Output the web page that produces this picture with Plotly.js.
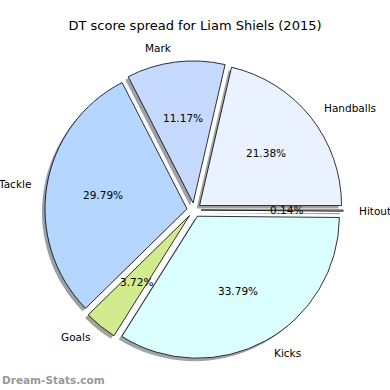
<!DOCTYPE html>
<html>
<head>
<meta charset="utf-8">
<script src="https://cdn.plot.ly/plotly-3.0.1.min.js"></script>
<style>html,body{margin:0;padding:0;background:#fff}#chart{width:390px;height:390px}</style>
</head>
<body>
<div id="chart"></div>
<script>
// ---- data ----
const labels = ['Handballs', 'Mark', 'Tackle', 'Goals', 'Kicks', 'Hitout'];
const values = [21.38, 11.17, 29.79, 3.72, 33.79, 0.14];
const colors = ['#eaf1ff', '#c6d9ff', '#b4d6ff', '#d2eb8f', '#dbffff', '#f4f4f4'];
const titleText = 'DT score spread for Liam Shiels (2015)';
const watermark = 'Dream-Stats.com';

// ---- geometry / style ----
const W = 390, Hh = 390;
const CX = 194, CY = 210, R = 142, PULL = 0.05;
const HALF = R * (1 + PULL);
const SH = 3; // shadow offset px
const FONT = 'DejaVu Sans, sans-serif';

const total = values.reduce((a, b) => a + b, 0);
// Plotly (counterclockwise) puts the first slice clockwise of `rotation`;
// start the first slice at 3 o'clock going counterclockwise, like matplotlib.
const ROT = 90 - 360 * values[0] / total;

function shadowColor(hex) {
  const r = parseInt(hex.slice(1, 3), 16), g = parseInt(hex.slice(3, 5), 16), b = parseInt(hex.slice(5, 7), 16);
  const f = c => Math.round(0.3 * c * 0.5 + 255 * 0.5);
  return 'rgb(' + f(r) + ',' + f(g) + ',' + f(b) + ')';
}

const dom = (dx, dy) => ({
  x: [(CX + dx - HALF) / W, (CX + dx + HALF) / W],
  y: [1 - (CY + dy + HALF) / Hh, 1 - (CY + dy - HALF) / Hh]
});

const pulls = values.map(() => PULL);

const shadow = {
  type: 'pie', labels: labels, values: values, sort: false,
  direction: 'counterclockwise', rotation: ROT, pull: pulls,
  marker: { colors: colors.map(shadowColor), line: { width: 0 } },
  textinfo: 'none', hoverinfo: 'skip', showlegend: false,
  domain: dom(-SH, SH)
};
const pie = {
  type: 'pie', labels: labels, values: values, sort: false,
  direction: 'counterclockwise', rotation: ROT, pull: pulls,
  marker: { colors: colors, line: { color: '#000', width: 0.8 } },
  textinfo: 'none', showlegend: false,
  domain: dom(0, 0)
};

// text annotations, positioned from the data (matplotlib-style)
const annotations = [];
let cum = 0;
values.forEach((v, i) => {
  const th = 2 * Math.PI * (cum + v / 2) / total;
  cum += v;
  const ex = CX + PULL * R * Math.cos(th), ey = CY - PULL * R * Math.sin(th);
  const px = ex + 0.6 * R * Math.cos(th), py = ey - 0.6 * R * Math.sin(th);
  const lx = ex + 1.1 * R * Math.cos(th), ly = ey - 1.1 * R * Math.sin(th);
  annotations.push({
    xref: 'paper', yref: 'paper', x: px / W, y: 1 - py / Hh,
    text: (100 * v / total).toFixed(2) + '%', showarrow: false,
    xanchor: 'center', yanchor: 'middle',
    font: { family: FONT, size: 10.5, color: '#000' }
  });
  annotations.push({
    xref: 'paper', yref: 'paper', x: lx / W, y: 1 - ly / Hh,
    text: labels[i], showarrow: false,
    xanchor: Math.cos(th) > 0 ? 'left' : 'right', yanchor: 'middle',
    font: { family: FONT, size: 10.5, color: '#000' }
  });
});
annotations.push({
  xref: 'paper', yref: 'paper', x: 0, y: 1 - 380 / Hh,
  text: '<b>' + watermark + '</b>', showarrow: false,
  xanchor: 'left', yanchor: 'middle',
  font: { family: FONT, size: 10.5, color: '#999999' }
});

const layout = {
  width: W, height: Hh,
  margin: { l: 0, r: 0, t: 0, b: 0 },
  paper_bgcolor: '#fff', plot_bgcolor: '#fff',
  title: { text: titleText, x: 0.5, xanchor: 'center', y: 1 - 25 / Hh, yanchor: 'middle',
           font: { family: FONT, size: 13, color: '#000' } },
  annotations: annotations,
  showlegend: false
};

Plotly.newPlot('chart', [shadow, pie], layout, { staticPlot: true, displayModeBar: false });
</script>
</body>
</html>
